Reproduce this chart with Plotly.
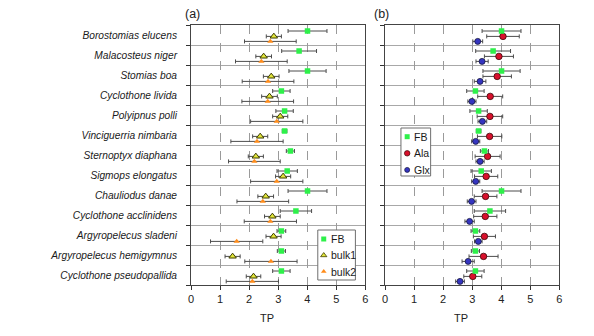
import plotly.graph_objects as go

# ---- data -------------------------------------------------------------
species = [
    "Borostomias elucens", "Malacosteus niger", "Stomias boa",
    "Cyclothone livida", "Polyipnus polli", "Vinciguerria nimbaria",
    "Sternoptyx diaphana", "Sigmops elongatus", "Chauliodus danae",
    "Cyclothone acclinidens", "Argyropelecus sladeni",
    "Argyropelecus hemigymnus", "Cyclothone pseudopallida",
]

fb_tp = [4.01, 3.72, 4.01, 3.11, 3.22, 3.22, 3.42, 3.31, 4.01, 3.61, 3.11, 3.11, 3.11]
fb_err = [0.67, 0.60, 0.64, 0.30, 0.30, 0.08, 0.14, 0.35, 0.67, 0.54, 0.15, 0.14, 0.30]

bulk1_tp = [2.85, 2.50, 2.76, 2.70, 3.07, 2.38, 2.23, 3.17, 2.57, 2.80, 2.84, 1.43, 2.15]
bulk1_err = [0.26, 0.27, 0.27, 0.27, 0.26, 0.26, 0.26, 0.26, 0.27, 0.27, 0.26, 0.26, 0.25]

bulk2_tp = [2.73, 2.42, 2.65, 2.64, 2.95, 2.27, 2.18, 2.95, 2.47, 2.73, 1.57, 2.75, 2.11]
bulk2_err = [0.89, 0.89, 0.89, 0.89, 0.90, 0.90, 0.89, 0.90, 0.89, 0.90, 0.90, 0.90, 0.90]

ala_tp = [4.06, 3.92, 3.86, 3.62, 3.61, 3.60, 3.53, 3.48, 3.46, 3.45, 3.42, 3.39, 3.02]
ala_err = [0.56, 0.50, 0.49, 0.43, 0.44, 0.42, 0.43, 0.40, 0.39, 0.40, 0.38, 0.50, 0.31]

glx_tp = [3.19, 3.34, 3.27, 2.99, 3.35, 3.12, 3.27, 3.12, 2.98, 2.91, 3.21, 2.86, 2.58]
glx_err = [0.17, 0.21, 0.20, 0.14, 0.15, 0.14, 0.14, 0.14, 0.15, 0.16, 0.13, 0.21, 0.15]

x_ticks = [0, 1, 2, 3, 4, 5, 6]

# ---- layout constants --------------------------------------------------
W, H = 594, 336
FONT = "Liberation Sans, Arial, sans-serif"
n = len(species)
rows = list(range(n))
OFFSETS = (0.30, 0.57, 0.82)  # vertical slot of each series inside a row

PLOT_TOP, PLOT_BOTTOM = 25, 285
A_LEFT, A_RIGHT = 190, 366
B_LEFT, B_RIGHT = 386, 562

GREEN = "#2ef04a"
YELLOW = "#e2e63a"
ORANGE = "#ff8c1a"
RED = "#d8102c"
BLUE = "#3535c0"
ERR = "#4d4d4d"


def px_x(p):
    return p / W


def px_y(p):
    return 1 - p / H


def series(x, err, slot, xa, ya, symbol, size, color, line_color=None, line_w=0):
    return go.Scatter(
        x=x,
        y=[r + OFFSETS[slot] for r in rows],
        xaxis=xa, yaxis=ya,
        mode="markers",
        showlegend=False,
        marker=dict(symbol=symbol, size=size, color=color,
                    line=dict(color=line_color or color, width=line_w)),
        error_x=dict(type="data", array=err, color=ERR, thickness=1, width=2),
    )


fig = go.Figure()

# panel (a): FB vs bulk estimates
fig.add_trace(series(bulk2_tp, bulk2_err, 2, "x", "y", "triangle-up", 5.5, ORANGE))
fig.add_trace(series(bulk1_tp, bulk1_err, 1, "x", "y", "triangle-up", 6.5, YELLOW, "#3d3d00", 1))
fig.add_trace(series(fb_tp, fb_err, 0, "x", "y", "square", 5.5, GREEN))

# panel (b): FB vs amino-acid estimates
fig.add_trace(series(glx_tp, glx_err, 2, "x2", "y2", "circle", 6, BLUE, "#14143c", 0.8))
fig.add_trace(series(ala_tp, ala_err, 1, "x2", "y2", "circle", 6.5, RED, "#3a0808", 0.8))
fig.add_trace(series(fb_tp, fb_err, 0, "x2", "y2", "square", 5.5, GREEN))

# ---- axes ---------------------------------------------------------------
xcommon = dict(
    range=[0, 6], tickmode="array", tickvals=x_ticks,
    ticks="outside", ticklen=4, tickcolor="#333", tickwidth=1,
    showline=True, linecolor="#444", linewidth=1, mirror=True,
    showgrid=True, gridcolor="#9a9a9a", griddash="dash", gridwidth=1,
    zeroline=False, tickfont=dict(family=FONT, size=11, color="#222"),
    fixedrange=True,
)
ycommon = dict(
    range=[n, 0], zeroline=False, showgrid=False,
    tickmode="array", tickvals=[r + 0.5 for r in rows], ticktext=species,
    ticks="",
    minor=dict(tickmode="array", tickvals=list(range(n + 1)), ticks="outside",
               ticklen=4, tickcolor="#333", tickwidth=1,
               showgrid=True, gridcolor="#a8a8a8", gridwidth=1),
    showline=True, linecolor="#444", linewidth=1, mirror=True,
    fixedrange=True,
)

y_dom = [px_y(PLOT_BOTTOM), px_y(PLOT_TOP)]

fig.update_layout(
    width=W, height=H,
    margin=dict(l=0, r=0, t=0, b=0),
    paper_bgcolor="white", plot_bgcolor="rgba(0,0,0,0)",
    font=dict(family=FONT, color="#222"),
    xaxis=dict(domain=[px_x(A_LEFT), px_x(A_RIGHT)], anchor="y", **xcommon),
    yaxis=dict(domain=y_dom, anchor="x", showticklabels=True, ticklabelstandoff=11,
               tickfont=dict(family=FONT, size=10.2, color="#1a1a1a", style="italic"),
               **ycommon),
    xaxis2=dict(domain=[px_x(B_LEFT), px_x(B_RIGHT)], anchor="y2", **xcommon),
    yaxis2=dict(domain=y_dom, anchor="x2", showticklabels=False, **ycommon),
    # full-page pixel frame used for the legend keys
    xaxis3=dict(domain=[0, 1], range=[0, W], visible=False, anchor="y3", fixedrange=True),
    yaxis3=dict(domain=[0, 1], range=[H, 0], visible=False, anchor="x3", fixedrange=True),
)

annotations = []
shapes = []

# panel tags and axis titles
for tag, xpos in (("(a)", 191.5), ("(b)", 382)):
    annotations.append(dict(text=tag, xref="paper", yref="paper", x=px_x(xpos), y=px_y(14),
                            xanchor="center", yanchor="middle", showarrow=False,
                            font=dict(family=FONT, size=12.5, color="#222")))
for xr in ("x", "x2"):
    annotations.append(dict(text="TP", xref=xr, yref="paper", x=2.6, y=px_y(318),
                            xanchor="center", yanchor="middle", showarrow=False,
                            font=dict(family=FONT, size=11, color="#222")))

# ---- legends ------------------------------------------------------------
legends = [
    dict(box=(318, 230, 356, 280), key_x=324, text_x=329, first_y=239, step=16.3,
         items=[("FB", "square", 5, GREEN, GREEN, 0),
                ("bulk1", "triangle-up", 5.5, YELLOW, "#3d3d00", 0.8),
                ("bulk2", "triangle-up", 5, ORANGE, ORANGE, 0)]),
    dict(box=(402, 128, 432, 176), key_x=408.3, text_x=413, first_y=136.7, step=16.6,
         items=[("FB", "square", 5, GREEN, GREEN, 0),
                ("Ala", "circle", 5.5, RED, "#3a0808", 0.7),
                ("Glx", "circle", 5, BLUE, "#14143c", 0.7)]),
]

for lg in legends:
    x0, y0, x1, y1 = lg["box"]
    shapes.append(dict(type="rect", xref="x3", yref="y3", x0=x0, y0=y0, x1=x1, y1=y1,
                       line=dict(color="#6e6e6e", width=1), fillcolor="white",
                       layer="between"))
    for k, (label, sym, size, fill, edge, lw) in enumerate(lg["items"]):
        yk = lg["first_y"] + k * lg["step"]
        fig.add_trace(go.Scatter(x=[lg["key_x"]], y=[yk], xaxis="x3", yaxis="y3",
                                 mode="markers", showlegend=False, hoverinfo="skip",
                                 marker=dict(symbol=sym, size=size, color=fill,
                                             line=dict(color=edge, width=lw))))
        annotations.append(dict(text=label, xref="paper", yref="paper",
                                x=px_x(lg["text_x"]), y=px_y(yk),
                                xanchor="left", yanchor="middle", showarrow=False,
                                font=dict(family=FONT, size=10.5, color="#1a1a1a")))

fig.update_layout(annotations=annotations, shapes=shapes)

fig.write_html("out.html")
